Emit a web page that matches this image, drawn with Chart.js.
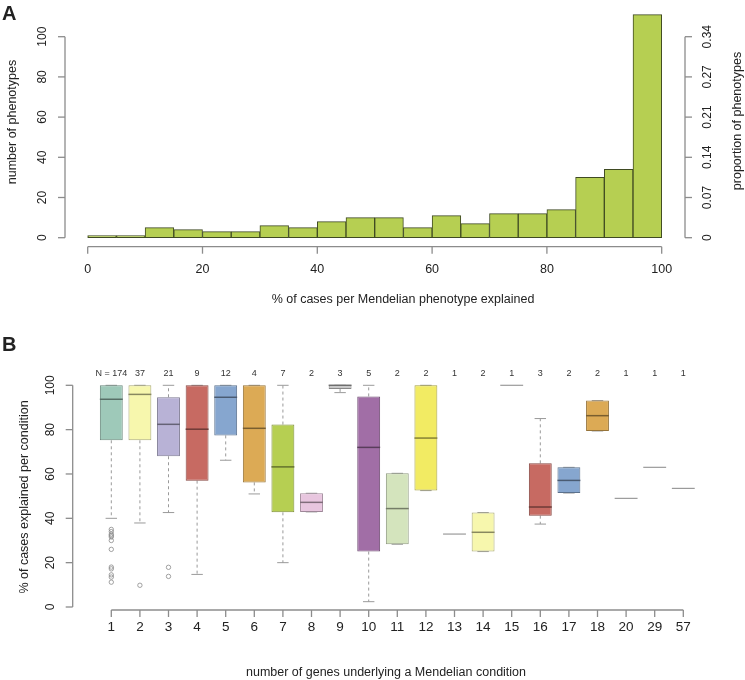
<!DOCTYPE html>
<html>
<head>
<meta charset="utf-8">
<script src="https://cdn.jsdelivr.net/npm/chart.js@4.4.1/dist/chart.umd.min.js"></script>
<style>
  html, body { margin: 0; padding: 0; background: #fff; overflow: hidden; }
  #wrap { position: relative; width: 745px; height: 680px; }
  #histChart { position: absolute; left: 0; top: 0; }
  #boxChart { position: absolute; left: 0; top: 320px; }
</style>
</head>
<body>
<div id="wrap">
  <canvas id="histChart" width="745" height="310"></canvas>
  <canvas id="boxChart" width="745" height="360"></canvas>
</div>
<script>
// panel A - histogram of % explained
const binMids = [2.5, 7.5, 12.5, 17.5, 22.5, 27.5, 32.5, 37.5, 42.5, 47.5,
                 52.5, 57.5, 62.5, 67.5, 72.5, 77.5, 82.5, 87.5, 92.5, 97.5];
const histCounts = [1, 1, 5, 4, 3, 3, 6, 5, 8, 10, 10, 5, 11, 7, 12, 12, 14, 30, 34, 111];
const pctTicks = [0, 20, 40, 60, 80, 100];
const countTicks = [0, 20, 40, 60, 80, 100];
const propTickLabels = ['0', '0.07', '0.14', '0.21', '0.27', '0.34'];

// panel B - boxplots per number of genes
const geneCounts = ['1', '2', '3', '4', '5', '6', '7', '8', '9', '10', '11',
                    '12', '13', '14', '15', '16', '17', '18', '20', '29', '57'];
const nCases = [174, 37, 21, 9, 12, 4, 7, 2, 3, 5, 2, 2, 1, 2, 1, 3, 2, 2, 1, 1, 1];
const whiskLow = [40, 37.9, 42.6, 14.7, 66.2, 51, 20, 42.9, 96.7, 2.4, 28.3,
                  52.5, 32.9, 25, 100, 37.4, 51.4, 79.4, 49, 63, 53.5];
const q1 = [75.2, 75.2, 68, 57, 77.4, 56.2, 42.7, 42.9, 98.35, 25, 28.3,
            52.5, 32.9, 25, 100, 41.2, 51.4, 79.4, 49, 63, 53.5];
const medians = [93.7, 95.9, 82.4, 80.2, 94.6, 80.6, 63.2, 47.2, 100, 72, 44.4,
                 76.2, 32.9, 33.7, 100, 45.1, 57.1, 86.3, 49, 63, 53.5];
const q3 = [100, 100, 94.6, 100, 100, 100, 82.3, 51.3, 100, 95, 60.3,
            100, 32.9, 42.6, 100, 64.8, 63, 93.1, 49, 63, 53.5];
const whiskHigh = [100, 100, 100, 100, 100, 100, 100, 51.3, 100, 100, 60.3,
                   100, 32.9, 42.6, 100, 85, 63, 93.1, 49, 63, 53.5];
const outliers = [
  [35, 34, 32.8, 32.2, 31.6, 30, 26, 18, 17.2, 14.5, 13.5, 11.2],
  [9.8],
  [17.9, 13.8]
];
const yTicksB = [0, 20, 40, 60, 80, 100];

const boxFills = ['#9ec9b9', '#f7f7ad', '#b8b2d6', '#c76a62', '#86a6cf', '#dcaa55', '#b6cf52',
                  '#e8c6df', '#c8c8c8', '#a16ea6', '#d4e4bd', '#f2eb63', '#9ec9b9', '#f7f7ad',
                  '#b8b2d6', '#c76a62', '#86a6cf', '#dcaa55', '#b6cf52', '#e8c6df', '#c8c8c8'];

const FONT = '"Liberation Sans", Arial, Helvetica, sans-serif';
const AXIS = '#8c8c8c';
const TEXT = '#222';

function shade(hex, f) {
  const n = parseInt(hex.replace('#', ''), 16);
  const r = Math.round(((n >> 16) & 255) * f);
  const g = Math.round(((n >> 8) & 255) * f);
  const b = Math.round((n & 255) * f);
  return `rgb(${r}, ${g}, ${b})`;
}

function vText(ctx, text, x, y) {
  ctx.save();
  ctx.translate(x, y);
  ctx.rotate(-Math.PI / 2);
  ctx.textAlign = 'center';
  ctx.textBaseline = 'middle';
  ctx.fillText(text, 0, 0);
  ctx.restore();
}

function line(ctx, x1, y1, x2, y2) {
  ctx.beginPath();
  ctx.moveTo(x1, y1);
  ctx.lineTo(x2, y2);
  ctx.stroke();
}

document.addEventListener('DOMContentLoaded', () => {
  // ---------- A ----------
  const histAxes = {
    id: 'histAxes',
    afterDraw(chart) {
      const ctx = chart.ctx;
      const xs = chart.scales.x;
      const ys = chart.scales.y;
      const y0 = ys.getPixelForValue(0);
      const y100 = ys.getPixelForValue(100);
      ctx.save();
      ctx.strokeStyle = AXIS;
      ctx.lineWidth = 1.3;
      ctx.fillStyle = TEXT;

      // left axis
      line(ctx, 65, y0, 65, y100);
      ctx.font = `12px ${FONT}`;
      countTicks.forEach(t => {
        const y = ys.getPixelForValue(t);
        line(ctx, 65, y, 58, y);
        vText(ctx, String(t), 43, y);
      });

      // right axis (proportion)
      line(ctx, 685, y0, 685, y100);
      countTicks.forEach((t, i) => {
        const y = ys.getPixelForValue(t);
        line(ctx, 685, y, 692, y);
        vText(ctx, propTickLabels[i], 708, y);
      });

      // bottom axis
      const ax = 246.7;
      line(ctx, xs.getPixelForValue(0), ax, xs.getPixelForValue(100), ax);
      ctx.textAlign = 'center';
      ctx.textBaseline = 'middle';
      ctx.font = `12.5px ${FONT}`;
      pctTicks.forEach(t => {
        const x = xs.getPixelForValue(t);
        line(ctx, x, ax, x, ax + 7);
        ctx.fillText(String(t), x, 270);
      });

      // titles
      ctx.font = `12.5px ${FONT}`;
      ctx.fillText('% of cases per Mendelian phenotype explained', 403, 300);
      vText(ctx, 'number of phenotypes', 13, 122);
      vText(ctx, 'proportion of phenotypes', 738, 121);

      ctx.font = `bold 20px ${FONT}`;
      ctx.textAlign = 'left';
      ctx.fillText('A', 2, 14);
      ctx.restore();
    }
  };

  new Chart(document.getElementById('histChart').getContext('2d'), {
    type: 'bar',
    data: {
      datasets: [{
        data: binMids.map((m, i) => ({ x: m, y: histCounts[i] })),
        backgroundColor: '#b6cf52',
        borderColor: '#3f4a22',
        borderWidth: 1,
        borderSkipped: false,
        barPercentage: 1,
        categoryPercentage: 1,
        clip: false
      }]
    },
    options: {
      responsive: false,
      animation: false,
      events: [],
      layout: { padding: { left: 87.7, right: 83.3, top: 6.55, bottom: 72.3 } },
      scales: {
        x: { type: 'linear', min: 0, max: 100, offset: false, display: false },
        y: { type: 'linear', min: 0, max: 115, display: false }
      },
      plugins: { legend: { display: false }, tooltip: { enabled: false } }
    },
    plugins: [histAxes]
  });

  // ---------- B ----------
  const boxExtras = {
    id: 'boxExtras',
    beforeDatasetsDraw(chart) {
      const ctx = chart.ctx;
      const ys = chart.scales.y;
      const meta = chart.getDatasetMeta(0);
      ctx.save();
      ctx.strokeStyle = '#9a9a9a';
      ctx.lineWidth = 1;
      meta.data.forEach((bar, i) => {
        if (nCases[i] < 2) return;
        const x = bar.x;
        const w = bar.width;
        ctx.setLineDash([3, 3]);
        if (whiskHigh[i] > q3[i]) line(ctx, x, ys.getPixelForValue(q3[i]), x, ys.getPixelForValue(whiskHigh[i]));
        if (whiskLow[i] < q1[i]) line(ctx, x, ys.getPixelForValue(q1[i]), x, ys.getPixelForValue(whiskLow[i]));
        ctx.setLineDash([]);
        const yh = ys.getPixelForValue(whiskHigh[i]);
        const yl = ys.getPixelForValue(whiskLow[i]);
        line(ctx, x - w / 4, yh, x + w / 4, yh);
        line(ctx, x - w / 4, yl, x + w / 4, yl);
      });
      ctx.restore();
    },
    afterDatasetsDraw(chart) {
      const ctx = chart.ctx;
      const ys = chart.scales.y;
      const meta = chart.getDatasetMeta(0);
      ctx.save();

      // medians + single-value lines
      meta.data.forEach((bar, i) => {
        const x = bar.x;
        const w = bar.width;
        const y = ys.getPixelForValue(medians[i]);
        if (nCases[i] < 2) {
          ctx.strokeStyle = '#9a9a9a';
          ctx.lineWidth = 1.2;
        } else {
          ctx.strokeStyle = shade(boxFills[i], 0.55);
          ctx.lineWidth = 1.5;
        }
        line(ctx, x - w / 2, y, x + w / 2, y);
      });

      // outliers
      ctx.strokeStyle = '#8a8a8a';
      ctx.lineWidth = 0.8;
      outliers.forEach((pts, i) => {
        const x = meta.data[i].x;
        pts.forEach(v => {
          ctx.beginPath();
          ctx.arc(x, ys.getPixelForValue(v), 2.2, 0, Math.PI * 2);
          ctx.stroke();
        });
      });

      // axes
      ctx.strokeStyle = AXIS;
      ctx.lineWidth = 1.3;
      ctx.fillStyle = TEXT;
      line(ctx, 72.7, ys.getPixelForValue(0), 72.7, ys.getPixelForValue(100));
      ctx.font = `12px ${FONT}`;
      yTicksB.forEach(t => {
        const y = ys.getPixelForValue(t);
        line(ctx, 72.7, y, 65.7, y);
        vText(ctx, String(t), 50.5, y);
      });

      const ax = 290;
      const first = meta.data[0].x;
      const last = meta.data[meta.data.length - 1].x;
      line(ctx, first, ax, last, ax);
      ctx.textAlign = 'center';
      ctx.textBaseline = 'middle';
      ctx.font = `13.5px ${FONT}`;
      meta.data.forEach((bar, i) => {
        line(ctx, bar.x, ax, bar.x, ax + 7);
        ctx.fillText(geneCounts[i], bar.x, 307.7);
      });

      // N labels
      ctx.font = `9px ${FONT}`;
      ctx.fillStyle = '#333';
      meta.data.forEach((bar, i) => {
        ctx.fillText(i === 0 ? 'N = ' + nCases[i] : String(nCases[i]), bar.x, 54);
      });

      // titles
      ctx.fillStyle = TEXT;
      ctx.font = `12.5px ${FONT}`;
      ctx.fillText('number of genes underlying a Mendelian condition', 386, 352.7);
      vText(ctx, '% of cases explained per condition', 25, 177);

      ctx.font = `bold 20px ${FONT}`;
      ctx.textAlign = 'left';
      ctx.fillText('B', 2, 25);
      ctx.restore();
    }
  };

  new Chart(document.getElementById('boxChart').getContext('2d'), {
    type: 'bar',
    data: {
      labels: geneCounts,
      datasets: [{
        data: q1.map((v, i) => [v, q3[i]]),
        backgroundColor: boxFills,
        borderColor: boxFills.map((c, i) => nCases[i] < 2 ? 'rgba(0,0,0,0)' : shade(c, 0.68)),
        borderWidth: 1,
        borderSkipped: false,
        barPercentage: 0.8,
        categoryPercentage: 1,
        clip: false
      }]
    },
    options: {
      responsive: false,
      animation: false,
      events: [],
      layout: { padding: { left: 97, right: 47.4, top: 65.3, bottom: 73 } },
      scales: {
        x: { type: 'category', offset: true, display: false },
        y: { type: 'linear', min: 0, max: 100, display: false }
      },
      plugins: { legend: { display: false }, tooltip: { enabled: false } }
    },
    plugins: [boxExtras]
  });
});
</script>
</body>
</html>
